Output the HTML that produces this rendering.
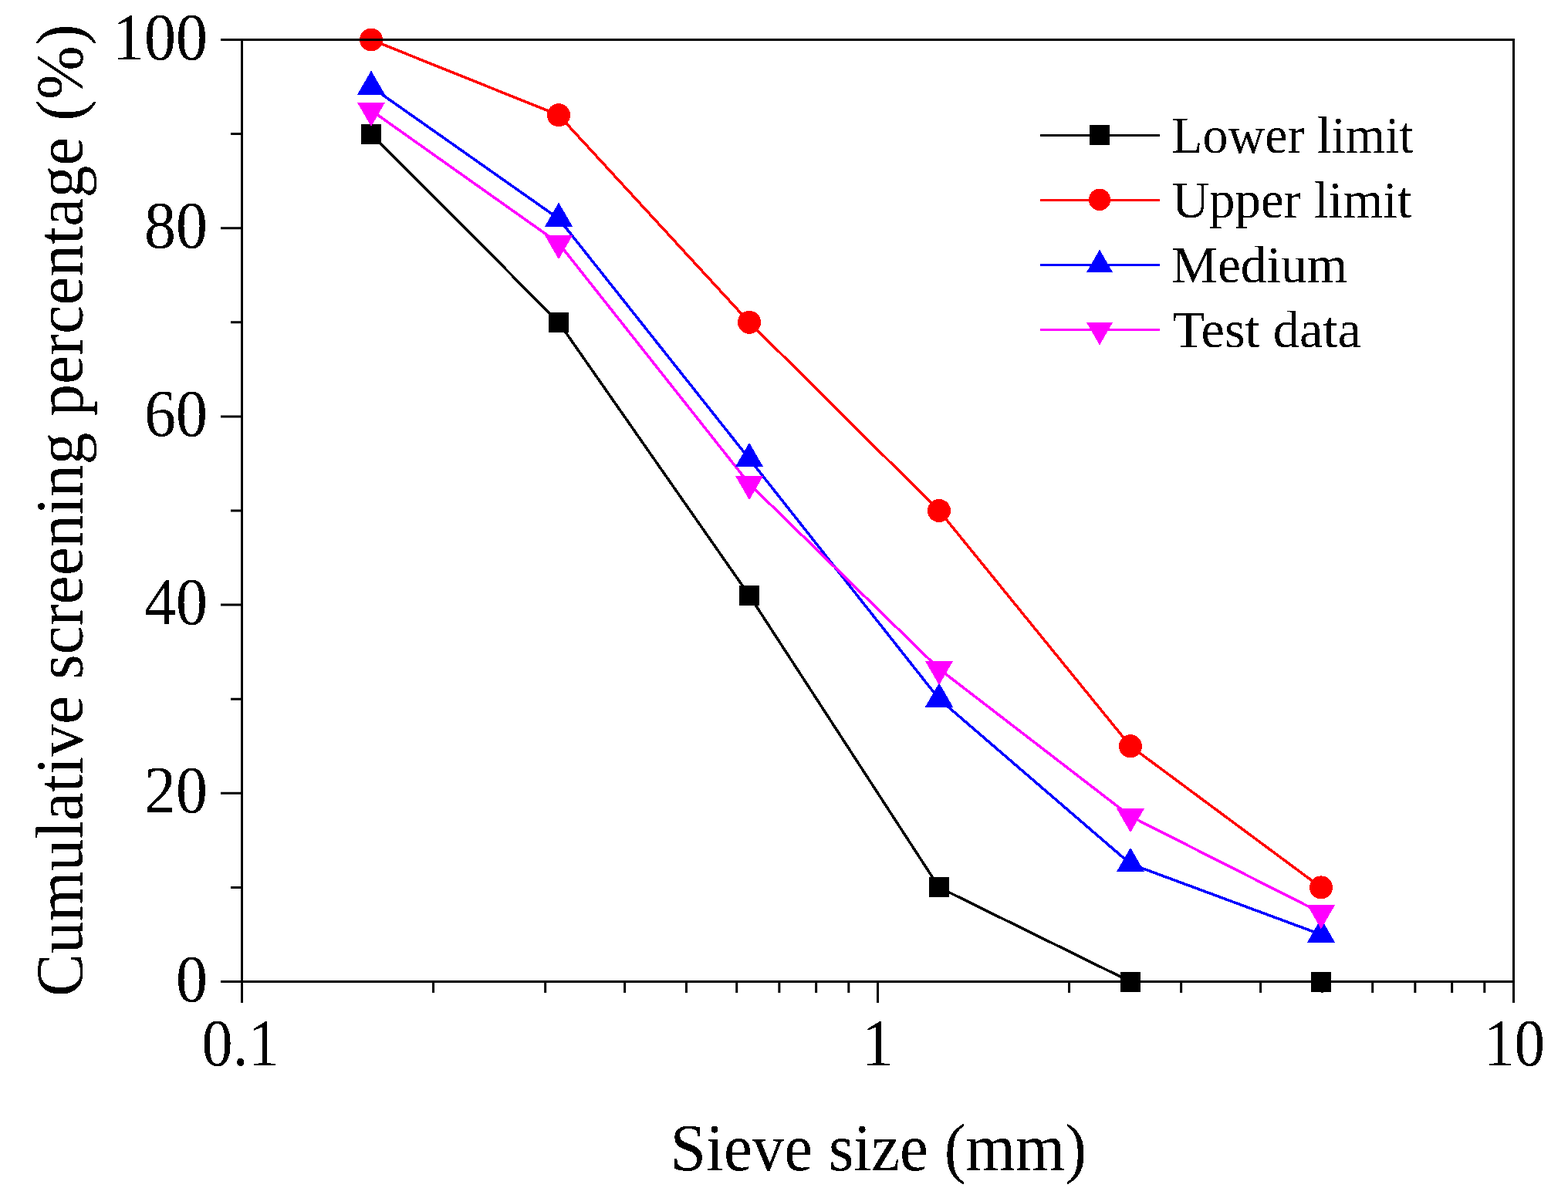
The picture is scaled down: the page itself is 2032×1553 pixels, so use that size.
<!DOCTYPE html>
<html><head><meta charset="utf-8"><title>Sieve size chart</title>
<style>
html,body{margin:0;padding:0;background:#fff;}
body{width:2032px;height:1553px;overflow:hidden;}
svg{display:block;}
text{font-family:"Liberation Serif","Times New Roman",serif;fill:#000;}
</style></head><body>
<svg width="2032" height="1553" viewBox="0 0 2032 1553">
<defs><filter id="bin" x="0" y="0" width="2032" height="1553" filterUnits="userSpaceOnUse" primitiveUnits="userSpaceOnUse" color-interpolation-filters="sRGB"><feComponentTransfer><feFuncA type="discrete" tableValues="0 1"/></feComponentTransfer></filter></defs>
<rect width="2032" height="1553" fill="#fff"/>
<polyline points="481.00,173.60 724.00,417.80 971.00,771.89 1217.00,1150.40 1465.00,1272.50 1712.00,1272.50" fill="none" stroke="#000000" stroke-width="3.5" stroke-linejoin="round" shape-rendering="crispEdges"/>
<polyline points="481.00,51.50 724.00,149.18 971.00,417.80 1217.00,662.00 1465.00,967.25 1712.00,1150.40" fill="none" stroke="#FF0000" stroke-width="3.5" stroke-linejoin="round" shape-rendering="crispEdges"/>
<polyline points="481.00,112.55 724.00,283.49 971.00,594.84 1217.00,906.20 1465.00,1119.88 1712.00,1211.45" fill="none" stroke="#0000FF" stroke-width="3.5" stroke-linejoin="round" shape-rendering="crispEdges"/>
<polyline points="481.00,143.07 724.00,315.24 971.00,627.20 1217.00,867.13 1465.00,1058.21 1712.00,1183.37" fill="none" stroke="#FF00FF" stroke-width="3.5" stroke-linejoin="round" shape-rendering="crispEdges"/>
<rect x="468.00" y="160.60" width="26.00" height="26.00" fill="#000000" shape-rendering="crispEdges"/>
<rect x="711.00" y="404.80" width="26.00" height="26.00" fill="#000000" shape-rendering="crispEdges"/>
<rect x="958.00" y="758.89" width="26.00" height="26.00" fill="#000000" shape-rendering="crispEdges"/>
<rect x="1204.00" y="1137.40" width="26.00" height="26.00" fill="#000000" shape-rendering="crispEdges"/>
<rect x="1452.00" y="1259.50" width="26.00" height="26.00" fill="#000000" shape-rendering="crispEdges"/>
<rect x="1699.00" y="1259.50" width="26.00" height="26.00" fill="#000000" shape-rendering="crispEdges"/>
<circle cx="481.00" cy="51.50" r="15.00" fill="#FF0000" shape-rendering="crispEdges"/>
<circle cx="724.00" cy="149.18" r="15.00" fill="#FF0000" shape-rendering="crispEdges"/>
<circle cx="971.00" cy="417.80" r="15.00" fill="#FF0000" shape-rendering="crispEdges"/>
<circle cx="1217.00" cy="662.00" r="15.00" fill="#FF0000" shape-rendering="crispEdges"/>
<circle cx="1465.00" cy="967.25" r="15.00" fill="#FF0000" shape-rendering="crispEdges"/>
<circle cx="1712.00" cy="1150.40" r="15.00" fill="#FF0000" shape-rendering="crispEdges"/>
<polygon points="481.00,91.55 499.19,123.05 462.81,123.05" fill="#0000FF" shape-rendering="crispEdges"/>
<polygon points="724.00,262.49 742.19,293.99 705.81,293.99" fill="#0000FF" shape-rendering="crispEdges"/>
<polygon points="971.00,573.84 989.19,605.34 952.81,605.34" fill="#0000FF" shape-rendering="crispEdges"/>
<polygon points="1217.00,885.20 1235.19,916.70 1198.81,916.70" fill="#0000FF" shape-rendering="crispEdges"/>
<polygon points="1465.00,1098.88 1483.19,1130.38 1446.81,1130.38" fill="#0000FF" shape-rendering="crispEdges"/>
<polygon points="1712.00,1190.45 1730.19,1221.95 1693.81,1221.95" fill="#0000FF" shape-rendering="crispEdges"/>
<polygon points="481.00,164.07 499.19,132.57 462.81,132.57" fill="#FF00FF" shape-rendering="crispEdges"/>
<polygon points="724.00,336.24 742.19,304.74 705.81,304.74" fill="#FF00FF" shape-rendering="crispEdges"/>
<polygon points="971.00,648.20 989.19,616.70 952.81,616.70" fill="#FF00FF" shape-rendering="crispEdges"/>
<polygon points="1217.00,888.13 1235.19,856.63 1198.81,856.63" fill="#FF00FF" shape-rendering="crispEdges"/>
<polygon points="1465.00,1079.21 1483.19,1047.71 1446.81,1047.71" fill="#FF00FF" shape-rendering="crispEdges"/>
<polygon points="1712.00,1204.37 1730.19,1172.87 1693.81,1172.87" fill="#FF00FF" shape-rendering="crispEdges"/>
<rect x="313.5" y="51.5" width="1648.0" height="1221.0" fill="none" stroke="#000" stroke-width="3"/>
<path d="M286 1272.50H313.5M299 1150.40H313.5M286 1028.30H313.5M299 906.20H313.5M286 784.10H313.5M299 662.00H313.5M286 539.90H313.5M299 417.80H313.5M286 295.70H313.5M299 173.60H313.5M286 51.50H313.5M313.50 1272.5V1300M561.55 1272.5V1287M706.65 1272.5V1287M809.60 1272.5V1287M889.45 1272.5V1287M954.70 1272.5V1287M1009.86 1272.5V1287M1057.65 1272.5V1287M1099.80 1272.5V1287M1137.50 1272.5V1300M1385.55 1272.5V1287M1530.65 1272.5V1287M1633.60 1272.5V1287M1713.45 1272.5V1287M1778.70 1272.5V1287M1833.86 1272.5V1287M1881.65 1272.5V1287M1923.80 1272.5V1287M1961.50 1272.5V1300" stroke="#000" stroke-width="3" fill="none"/>
<line x1="1348" y1="175.5" x2="1503" y2="175.5" stroke="#000000" stroke-width="3"/>
<rect x="1412.00" y="161.90" width="26.00" height="26.00" fill="#000000" shape-rendering="crispEdges"/>
<line x1="1348" y1="259.5" x2="1503" y2="259.5" stroke="#FF0000" stroke-width="3"/>
<circle cx="1425.00" cy="258.90" r="14.20" fill="#FF0000" shape-rendering="crispEdges"/>
<line x1="1348" y1="343.5" x2="1503" y2="343.5" stroke="#0000FF" stroke-width="3"/>
<polygon points="1425.00,323.55 1442.28,353.48 1407.72,353.48" fill="#0000FF" shape-rendering="crispEdges"/>
<line x1="1348" y1="427.5" x2="1503" y2="427.5" stroke="#FF00FF" stroke-width="3"/>
<polygon points="1425.00,447.45 1442.28,417.52 1407.72,417.52" fill="#FF00FF" shape-rendering="crispEdges"/>
<g filter="url(#bin)">
<text transform="translate(268.9 1297.50) scale(1 1.058)" font-size="82" text-anchor="end">0</text>
<text transform="translate(268.9 1053.30) scale(1 1.058)" font-size="82" text-anchor="end">20</text>
<text transform="translate(268.9 809.10) scale(1 1.058)" font-size="82" text-anchor="end">40</text>
<text transform="translate(268.9 564.90) scale(1 1.058)" font-size="82" text-anchor="end">60</text>
<text transform="translate(268.9 320.70) scale(1 1.058)" font-size="82" text-anchor="end">80</text>
<text transform="translate(268.9 76.50) scale(1 1.058)" font-size="82" text-anchor="end">100</text>
<text transform="translate(261.5 1380.6) scale(1 1.058)" font-size="82" textLength="100.4" lengthAdjust="spacingAndGlyphs">0.1</text>
<text transform="translate(1137.50 1380.6) scale(1 1.058)" font-size="82" text-anchor="middle">1</text>
<text transform="translate(1922.9 1380.6) scale(1 1.058)" font-size="82" textLength="79.3" lengthAdjust="spacingAndGlyphs">10</text>
<text transform="translate(868.75 1517) scale(1 1.04)" font-size="83" textLength="539.3" lengthAdjust="spacingAndGlyphs">Sieve size (mm)</text>
<text transform="translate(106.5 1291.9) rotate(-90) scale(1 1.04)" font-size="83" textLength="1260.6" lengthAdjust="spacingAndGlyphs">Cumulative screening percentage (%)</text>
<text transform="translate(1518.20 198.00) scale(1 1.04)" font-size="66" textLength="313.7" lengthAdjust="spacingAndGlyphs">Lower limit</text>
<text transform="translate(1518.69 282.00) scale(1 1.04)" font-size="66" textLength="310.8" lengthAdjust="spacingAndGlyphs">Upper limit</text>
<text transform="translate(1518.16 366.00) scale(1 1.04)" font-size="66" textLength="227.9" lengthAdjust="spacingAndGlyphs">Medium</text>
<text transform="translate(1519.38 450.00) scale(1 1.04)" font-size="66" textLength="244.5" lengthAdjust="spacingAndGlyphs">Test data</text>
</g>
</svg></body></html>
